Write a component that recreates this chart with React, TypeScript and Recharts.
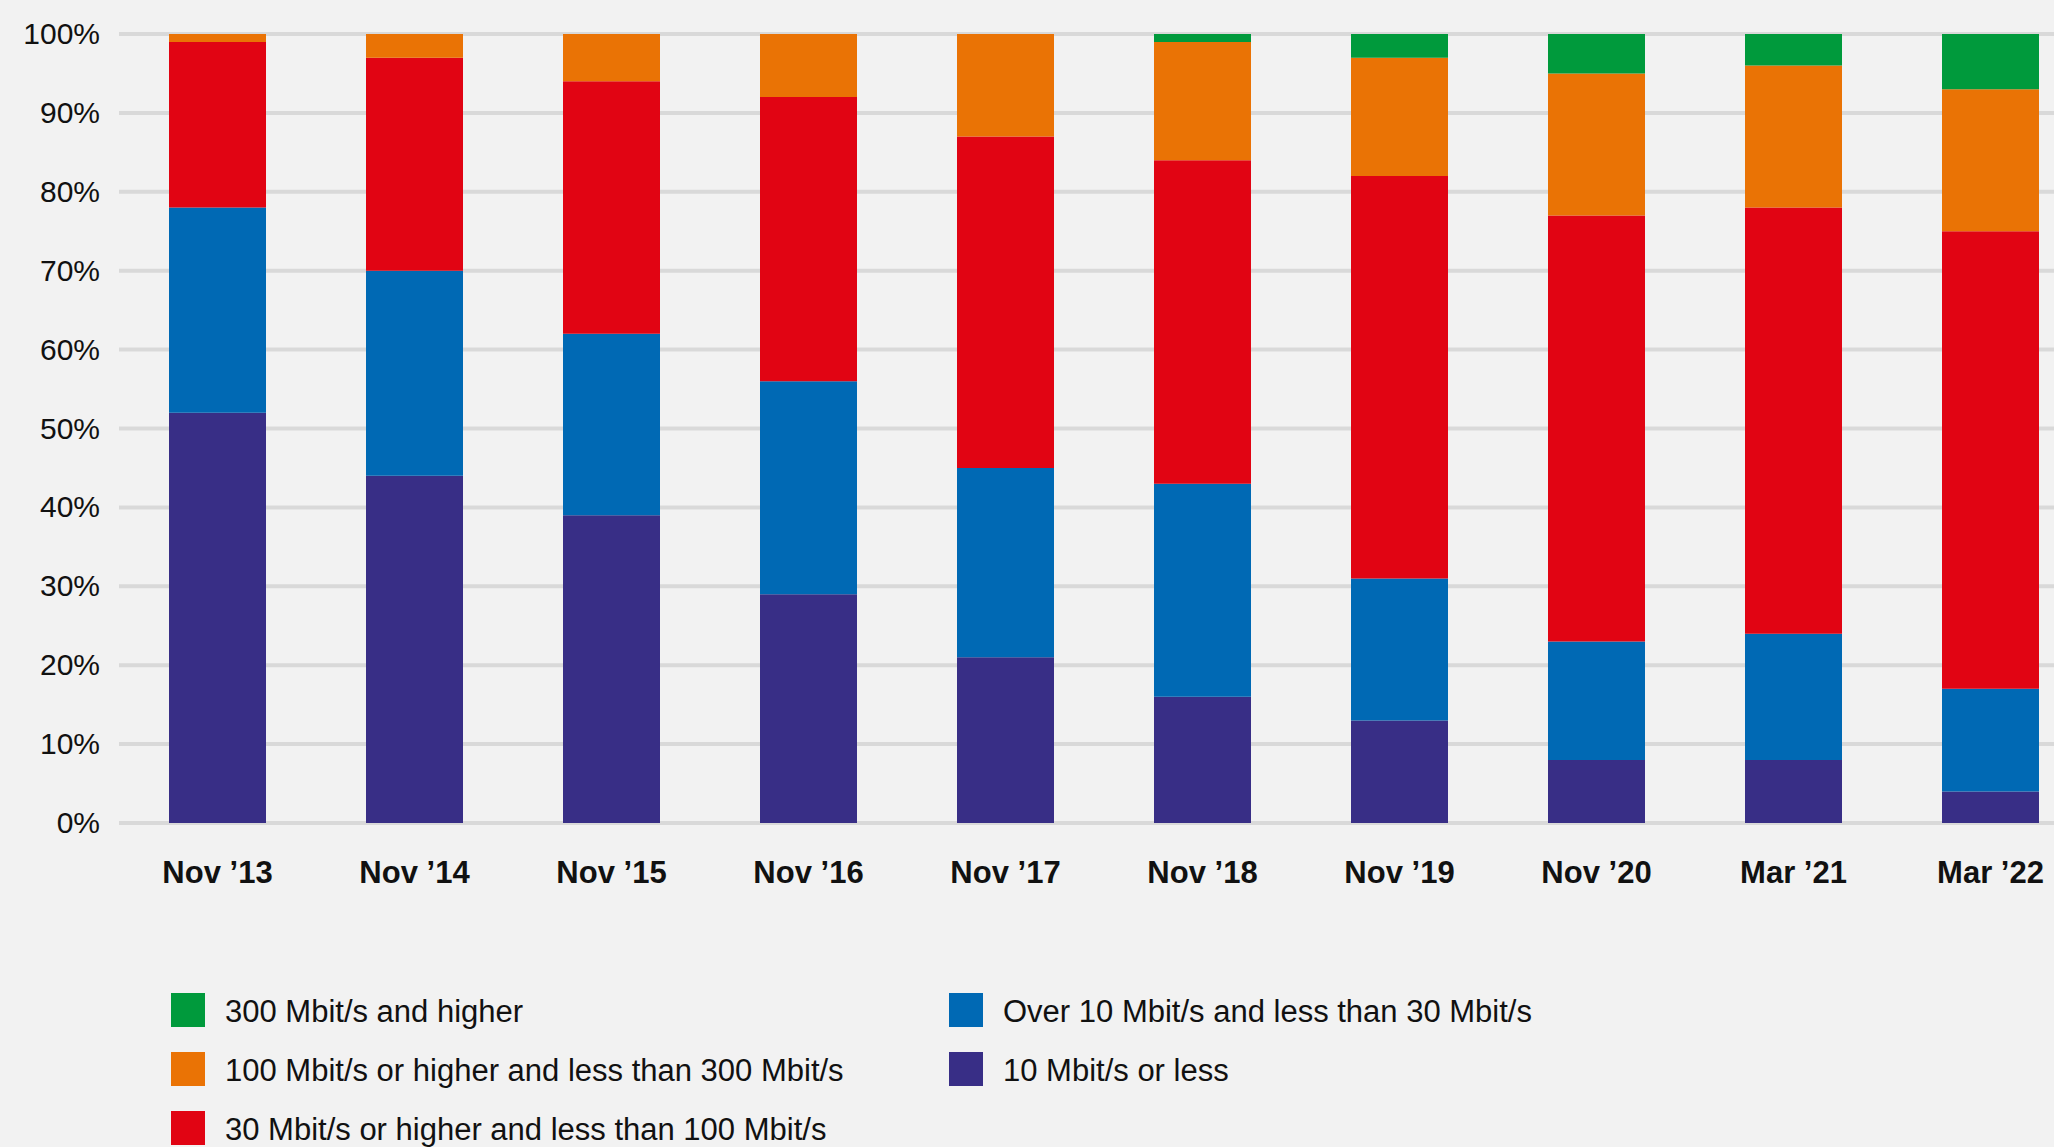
import React from "react";
import { BarChart, Bar, XAxis, YAxis, CartesianGrid } from "recharts";

// Survey periods
const periods = [
  "Nov ’13",
  "Nov ’14",
  "Nov ’15",
  "Nov ’16",
  "Nov ’17",
  "Nov ’18",
  "Nov ’19",
  "Nov ’20",
  "Mar ’21",
  "Mar ’22",
];

// Share of connections per speed band (%)
const upTo10 = [52, 44, 39, 29, 21, 16, 13, 8, 8, 4];
const from10To30 = [26, 26, 23, 27, 24, 27, 18, 15, 16, 13];
const from30To100 = [21, 27, 32, 36, 42, 41, 51, 54, 54, 58];
const from100To300 = [1, 3, 6, 8, 13, 15, 15, 18, 18, 18];
const from300 = [0, 0, 0, 0, 0, 1, 3, 5, 4, 7];

const yTicks = [0, 10, 20, 30, 40, 50, 60, 70, 80, 90, 100];

const FONT = '"Liberation Sans", Arial, Helvetica, sans-serif';

// Stack order: bottom to top
const series = [
  { key: "upTo10", name: "10 Mbit/s or less", color: "#382e86", values: upTo10 },
  { key: "from10To30", name: "Over 10 Mbit/s and less than 30 Mbit/s", color: "#0069b4", values: from10To30 },
  { key: "from30To100", name: "30 Mbit/s or higher and less than 100 Mbit/s", color: "#e10413", values: from30To100 },
  { key: "from100To300", name: "100 Mbit/s or higher and less than 300 Mbit/s", color: "#ea7305", values: from100To300 },
  { key: "from300", name: "300 Mbit/s and higher", color: "#009a3c", values: from300 },
];

const data = periods.map((period, i) => {
  const row: Record<string, string | number> = { period };
  series.forEach((s) => {
    row[s.key] = s.values[i];
  });
  return row;
});

// Legend layout: first column top-down, then second column
const legendColumns = [
  ["from300", "from100To300", "from30To100"],
  ["from10To30", "upTo10"],
];

const XTick = (props: any) => {
  const { x, y, payload } = props;
  return (
    <text
      x={x}
      y={y}
      dy={60}
      textAnchor="middle"
      fontFamily={FONT}
      fontWeight={700}
      fontSize={31}
      fill="#111"
    >
      {payload.value}
    </text>
  );
};

const YTick = (props: any) => {
  const { x, y, payload } = props;
  return (
    <text x={x} y={y} dy={10} textAnchor="end" fontFamily={FONT} fontSize={30} fill="#111">
      {`${payload.value}%`}
    </text>
  );
};

const Legend = () => {
  const colX = [171, 949];
  const rowTop = [993, 1052, 1111];
  return (
    <svg
      width={2054}
      height={1147}
      style={{ position: "absolute", left: 0, top: 0, pointerEvents: "none" }}
    >
      {legendColumns.map((col, ci) =>
        col.map((key, ri) => {
          const s = series.find((d) => d.key === key)!;
          return (
            <g key={key}>
              <rect x={colX[ci]} y={rowTop[ri]} width={34} height={34} fill={s.color} />
              <text
                x={colX[ci] + 54}
                y={rowTop[ri] + 29}
                fontFamily={FONT}
                fontSize={31}
                fill="#111"
              >
                {s.name}
              </text>
            </g>
          );
        })
      )}
    </svg>
  );
};

export default function App() {
  return (
    <div
      style={{
        position: "fixed",
        left: 0,
        top: 0,
        width: 2054,
        height: 1147,
        overflow: "hidden",
        background: "#f2f2f2",
      }}
    >
      <BarChart
        width={2089}
        height={1147}
        data={data}
        margin={{ top: 34, right: 0, bottom: 0, left: 0 }}
        barSize={97}
      >
        <CartesianGrid horizontal vertical={false} stroke="#d9d9d9" strokeWidth={4} />
        <XAxis
          dataKey="period"
          axisLine={false}
          tickLine={false}
          tickSize={0}
          tickMargin={0}
          height={324}
          interval={0}
          tick={<XTick />}
        />
        <YAxis
          type="number"
          domain={[0, 100]}
          ticks={yTicks}
          axisLine={false}
          tickLine={false}
          tickSize={0}
          tickMargin={19}
          width={119}
          interval={0}
          tick={<YTick />}
        />
        {series.map((s) => (
          <Bar
            key={s.key}
            dataKey={s.key}
            name={s.name}
            stackId="speed"
            fill={s.color}
            isAnimationActive={false}
          />
        ))}
      </BarChart>
      <Legend />
    </div>
  );
}
